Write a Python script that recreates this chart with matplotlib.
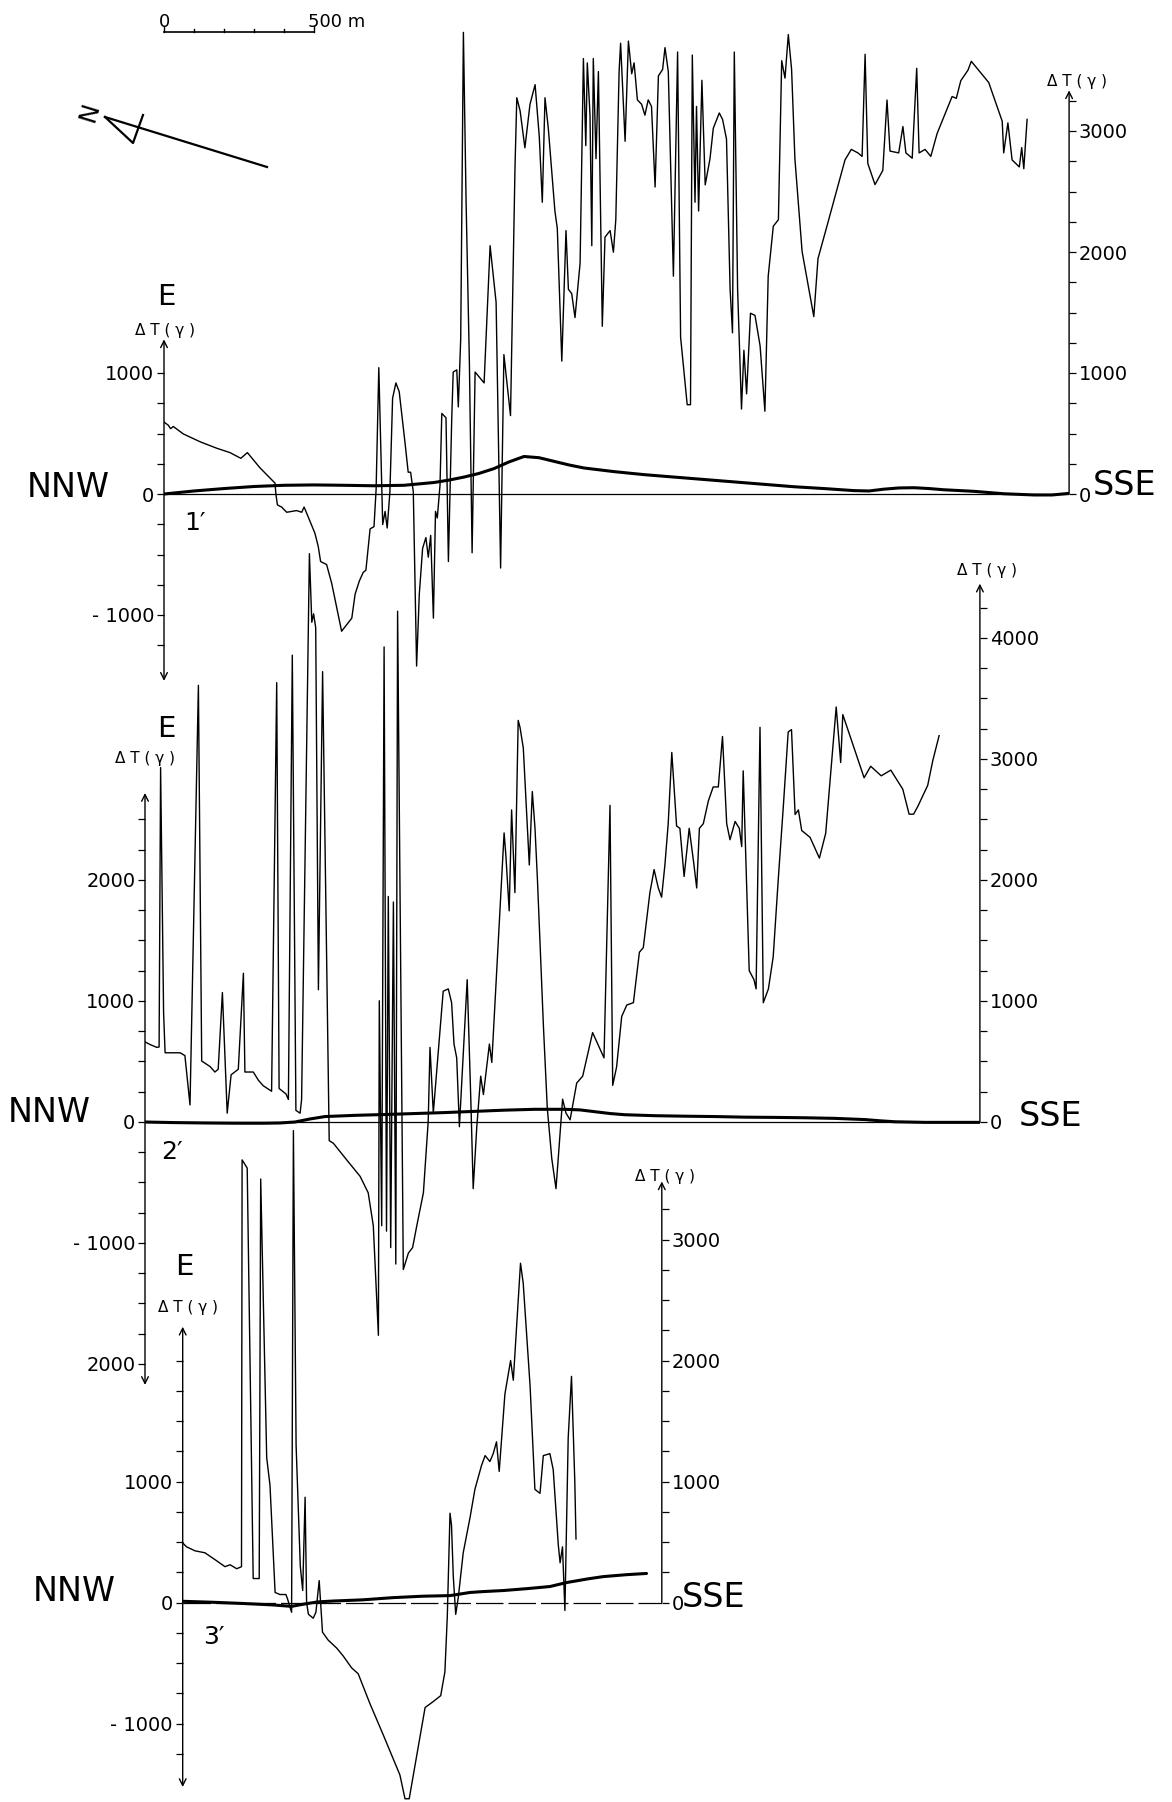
import matplotlib
matplotlib.use("Agg")
import matplotlib.pyplot as plt

plt.rcParams['font.family'] = ['DejaVu Sans']

# ---------------- data (distance along profile in m, anomaly dT in gamma) ----------------
P1_dist = [0, 14, 22, 31, 64, 120, 176, 220, 256, 278, 320, 370, 373, 378, 392, 409, 442, 459, 467, 478,
           503, 514, 522, 542, 559, 592, 626, 637, 651, 664, 673, 687, 700, 707, 716, 729, 737, 744, 753, 762,
           773, 784, 803, 814, 822, 831, 842, 851, 862, 873, 881, 889, 898, 905, 911, 920, 926, 940, 948, 959,
           964, 976, 981, 989, 998, 1007, 1018, 1027, 1037, 1067, 1087, 1107, 1122, 1133, 1155, 1170, 1176, 1187, 1203, 1220,
           1237, 1251, 1261, 1270, 1281, 1303, 1311, 1326, 1340, 1348, 1359, 1370, 1387, 1398, 1406, 1411, 1420, 1426, 1431, 1440,
           1448, 1461, 1470, 1487, 1498, 1506, 1517, 1522, 1537, 1548, 1559, 1567, 1578, 1592, 1603, 1614, 1625, 1637, 1648, 1662,
           1670, 1681, 1698, 1712, 1722, 1744, 1755, 1761, 1770, 1775, 1782, 1793, 1804, 1820, 1831, 1851, 1862, 1875, 1887, 1895,
           1901, 1912, 1925, 1933, 1942, 1955, 1970, 1987, 2003, 2014, 2031, 2048, 2059, 2070, 2081, 2092, 2103, 2127, 2166, 2180,
           2206, 2270, 2291, 2313, 2327, 2337, 2346, 2370, 2396, 2410, 2420, 2449, 2463, 2473, 2494, 2509, 2517, 2537, 2556, 2577,
           2627, 2641, 2656, 2680, 2691, 2720, 2749, 2794, 2799, 2813, 2827, 2851, 2859, 2866, 2877]
P1_dT = [594, 569, 540, 558, 497, 432, 378, 342, 295, 342, 216, 90, 0, -90, -108, -151, -137, -151, -108, -173,
         -324, -432, -558, -583, -738, -1134, -1026, -828, -720, -648, -630, -288, -270, 36, 1044, -252, -144, -281, 18, 792,
         918, 846, 432, 180, 180, 18, -1422, -828, -450, -360, -522, -342, -1026, -144, -198, 72, 666, 630, -558, 612,
         1008, 1026, 720, 1278, 3815, 2411, 1080, -486, 1008, 918, 2052, 1584, -612, 1152, 648, 2699, 3275, 3167, 2861, 3221,
         3383, 2951, 2411, 3275, 3023, 2339, 2195, 1098, 2177, 1692, 1656, 1458, 1908, 3599, 2879, 3563, 3131, 2052, 3599, 2771,
         3491, 1386, 2123, 2177, 1998, 2267, 3491, 3725, 2915, 3743, 3473, 3563, 3257, 3221, 3131, 3257, 3203, 2537, 3455, 3509,
         3689, 3491, 1800, 3653, 1296, 738, 738, 3628, 2411, 3203, 2339, 3419, 2555, 2771, 3023, 3149, 3095, 2933, 1692, 1332,
         3653, 1692, 702, 1188, 828, 1494, 1476, 1224, 684, 1800, 2213, 2267, 3581, 3437, 3797, 3509, 2771, 2004, 1466, 1946,
         2179, 2761, 2848, 2819, 2790, 3634, 2732, 2557, 2674, 3256, 2834, 2819, 3037, 2819, 2775, 3518, 2819, 2848, 2790, 2979,
         3285, 3270, 3416, 3503, 3576, 3489, 3401, 3081, 2819, 3067, 2761, 2703, 2863, 2688, 3096]
P1_reg_dist = [0, 100, 200, 300, 400, 500, 600, 700, 800, 900, 950, 1000, 1050, 1100, 1150, 1200, 1250, 1300,
               1350, 1400, 1500, 1600, 1700, 1800, 1900, 2000, 2100, 2200, 2300, 2350, 2400, 2450, 2500, 2550,
               2600, 2700, 2800, 2900, 2960, 3017]
P1_reg_dT = [0, 25, 45, 62, 72, 75, 72, 68, 72, 95, 115, 140, 170, 210, 265, 310, 300, 270, 240, 215,
             185, 160, 140, 120, 100, 80, 60, 45, 28, 25, 40, 50, 52, 45, 35, 22, 2, -8, -8, 5]

P2_dist = [0, 17, 39, 47, 52, 62, 67, 117, 133, 150, 178, 189, 217, 233, 244, 258, 274, 287, 311, 328,
           333, 361, 378, 394, 422, 439, 447, 470, 478, 491, 503, 517, 522, 548, 556, 562, 569, 578, 592, 614,
           628, 672, 717, 744, 761, 772, 778, 781, 789, 797, 805, 811, 819, 828, 836, 842, 861, 878, 892, 906,
           928, 939, 944, 950, 961, 994, 1011, 1022, 1030, 1039, 1048, 1074, 1086, 1094, 1106, 1119, 1128, 1148, 1156, 1197,
           1203, 1214, 1222, 1233, 1244, 1250, 1261, 1281, 1291, 1300, 1308, 1328, 1341, 1356, 1370, 1383, 1392, 1403, 1417, 1439,
           1459, 1492, 1530, 1550, 1559, 1572, 1589, 1606, 1628, 1648, 1661, 1683, 1697, 1711, 1722, 1733, 1744, 1756, 1772, 1783,
           1797, 1814, 1828, 1839, 1848, 1861, 1878, 1894, 1911, 1925, 1939, 1950, 1967, 1981, 1989, 1994, 2014, 2030, 2037, 2050,
           2061, 2078, 2094, 2111, 2128, 2144, 2155, 2167, 2178, 2189, 2217, 2248, 2269, 2304, 2319, 2326, 2397, 2419, 2454, 2486,
           2526, 2547, 2562, 2576, 2609, 2626, 2647]
P2_dT = [662, 640, 617, 620, 2929, 900, 572, 572, 549, 141, 3609, 504, 458, 413, 436, 1070, 73, 390, 436, 1229,
         413, 413, 345, 300, 254, 3631, 277, 232, 186, 3858, 96, 73, 186, 4697, 4130, 4200, 4085, 1093, 3722, -154,
         -176, -312, -449, -585, -857, -1446, -1763, 1002, -857, 3926, -902, 1864, -1038, 1818, -1174, 4221, -1219, -1083, -1038, -857,
         -585, -176, 5, 617, 75, 1081, 1100, 986, 644, 530, -39, 1176, 189, -551, -39, 379, 227, 644, 492, 2389,
         2200, 1745, 2579, 1896, 3319, 3262, 3091, 2124, 2731, 2427, 2010, 796, 113, -304, -551, -114, 189, 75, 18, 322,
         379, 739, 530, 2617, 303, 455, 872, 967, 986, 1403, 1441, 1896, 2086, 1934, 1858, 2124, 2465, 3054, 2446, 2427,
         2029, 2427, 2162, 1934, 2427, 2465, 2655, 2769, 2769, 3186, 2465, 2333, 2484, 2427, 2276, 2902, 1251, 1176, 1100, 3262,
         986, 1100, 1365, 2010, 2617, 3224, 3243, 2541, 2579, 2409, 2352, 2181, 2386, 3430, 2971, 3367, 2845, 2940, 2861, 2908,
         2750, 2544, 2544, 2608, 2782, 2987, 3193]
P2_reg_dist = [0, 100, 200, 300, 400, 450, 500, 550, 600, 700, 800, 900, 1000, 1100, 1200, 1300, 1400, 1450,
               1500, 1550, 1600, 1700, 1800, 1900, 2000, 2100, 2200, 2300, 2400, 2450, 2500, 2600, 2700, 2783]
P2_reg_dT = [0, -5, -8, -10, -10, -8, 0, 25, 45, 55, 62, 70, 78, 88, 98, 105, 105, 100,
             85, 70, 60, 52, 48, 45, 40, 38, 35, 30, 20, 10, 2, -3, -3, -3]

P3_dist = [0, 13, 41, 74, 113, 141, 158, 180, 196, 198, 215, 235, 255, 260, 280, 291, 308, 324, 344, 349,
           363, 369, 378, 392, 400, 408, 413, 419, 435, 444, 455, 466, 485, 513, 535, 563, 585, 624, 669, 724,
           741, 755, 808, 835, 860, 874, 882, 891, 896, 902, 910, 919, 935, 958, 974, 996, 1008, 1024, 1035, 1046,
           1055, 1074, 1093, 1102, 1126, 1135, 1158, 1174, 1191, 1202, 1224, 1235, 1252, 1258, 1266, 1274, 1285, 1296, 1307, 1311]
P3_dT = [492, 460, 427, 411, 345, 296, 312, 279, 296, 3658, 3590, 198, 198, 3500, 1197, 968, 83, 66, 66, 33,
         -81, 3900, 1300, 300, 99, 870, 0, -97, -130, -81, 181, -245, -311, -376, -442, -540, -589, -835, -1097, -1425,
         -1622, -1622, -868, -819, -770, -573, -115, 738, 640, 213, -98, 49, 410, 705, 935, 1132, 1214, 1165, 1230, 1328,
         1083, 1722, 2000, 1837, 2804, 2640, 1787, 935, 902, 1214, 1230, 1099, 476, 328, 460, -66, 1361, 1869, 1000, 525]
P3_reg_dist = [0, 100, 200, 300, 363, 400, 450, 500, 600, 700, 800, 891, 958, 1000, 1069, 1150, 1224, 1280,
               1350, 1402, 1480, 1546]
P3_reg_dT = [10, 2, -8, -20, -32, -15, 5, 12, 22, 40, 52, 57, 83, 90, 99, 115, 132, 165, 195, 214, 230, 240]

P1_length, P2_length, P3_length = 3017, 2783, 1597
left_labels_1 = {1000: '1000', 0: '0', -1000: '- 1000'}
left_labels_2 = {2000: '2000', 1000: '1000', 0: '0', -1000: '- 1000', -2000: '2000'}
left_labels_3 = {1000: '1000', 0: '0', -1000: '- 1000'}
right_labels_1 = {0: '0', 1000: '1000', 2000: '2000', 3000: '3000'}
right_labels_2 = {0: '0', 1000: '1000', 2000: '2000', 3000: '3000', 4000: '4000'}
right_labels_3 = {0: '0', 1000: '1000', 2000: '2000', 3000: '3000'}

# ---------------- layout ----------------
FW, FH = 1172, 1802
PX_PER_M = 0.3      # 150 px = 500 m
PX_PER_G = 0.121    # px per gamma

fig = plt.figure(figsize=(FW / 100, FH / 100), dpi=100)
fig.patch.set_facecolor('white')


def place(x_left, zero_px, length, ymin, ymax):
    left = x_left / FW
    width = length * PX_PER_M / FW
    top_px = zero_px - ymax * PX_PER_G
    bot_px = zero_px - ymin * PX_PER_G
    return [left, 1 - bot_px / FH, width, (bot_px - top_px) / FH]


def draw_profile(x_left, zero_px, length, ylim, dist, dT, rdist, rdT,
                 lt_range, lt_labels, l_arrow, rt_range, rt_labels, r_top, dashed):
    ax = fig.add_axes(place(x_left, zero_px, length, *ylim))
    ax.set_facecolor('none')
    ax.set_xlim(0, length)
    ax.set_ylim(*ylim)
    for s in ax.spines.values():
        s.set_visible(False)
    ax.set_xticks([])
    lt = list(range(lt_range[0], lt_range[1] + 1, 250))
    ax.set_yticks(lt)
    ax.set_yticklabels([lt_labels.get(t, '') for t in lt])
    ax.tick_params(axis='y', direction='out', length=5, width=0.9, labelsize=14, pad=2)

    ax2 = ax.twinx()
    ax2.set_ylim(*ylim)
    for s in ax2.spines.values():
        s.set_visible(False)
    rt = list(range(rt_range[0], rt_range[1] + 1, 250))
    ax2.set_yticks(rt)
    ax2.set_yticklabels([rt_labels.get(t, '') for t in rt])
    ax2.tick_params(axis='y', direction='out', length=5, width=0.9, labelsize=14, pad=2)

    # axes lines with arrows
    ax.annotate('', xy=(0, l_arrow[1]), xytext=(0, l_arrow[0]),
                arrowprops=dict(arrowstyle='<->', color='k', lw=1.0, shrinkA=0, shrinkB=0,
                                mutation_scale=12))
    ax.annotate('', xy=(length, r_top), xytext=(length, 0),
                arrowprops=dict(arrowstyle='->', color='k', lw=1.0, shrinkA=0, shrinkB=0,
                                mutation_scale=12))
    # base line
    if dashed:
        ax.plot([0, length], [0, 0], color='k', lw=0.9, linestyle=(0, (22, 4)))
    else:
        ax.plot([0, length], [0, 0], color='k', lw=0.9)
    # measured profile (thin) and computed profile (thick)
    ax.plot(dist, dT, color='k', lw=1.0)
    ax.plot(rdist, rdT, color='k', lw=2.2, solid_capstyle='round', solid_joinstyle='round')
    return ax


draw_profile(164, 494, P1_length, (-1700, 3950), P1_dist, P1_dT, P1_reg_dist, P1_reg_dT,
             (-1250, 1000), left_labels_1, (-1544, 1278), (0, 3250), right_labels_1, 3336, False)
draw_profile(145, 1122, P2_length, (-2300, 4800), P2_dist, P2_dT, P2_reg_dist, P2_reg_dT,
             (-2000, 2500), left_labels_2, (-2173, 2719), (0, 4250), right_labels_2, 4449, False)
draw_profile(182.7, 1602.5, P3_length, (-1700, 4000), P3_dist, P3_dT, P3_reg_dist, P3_reg_dT,
             (-1250, 2000), left_labels_3, (-1525, 2279), (0, 3250), right_labels_3, 3480, True)

# ---------------- overlay for annotations (pixel coordinates) ----------------
ov = fig.add_axes([0, 0, 1, 1])
ov.set_facecolor('none')
ov.set_xlim(0, FW)
ov.set_ylim(FH, 0)
ov.axis('off')

# scale bar
sb_x0, sb_y = 164, 32
sb_len = 500 * PX_PER_M
ov.plot([sb_x0, sb_x0 + sb_len], [sb_y, sb_y], color='k', lw=1.2)
for i in range(6):
    xx = sb_x0 + i * sb_len / 5
    top = sb_y - (6 if i in (0, 5) else 3)
    ov.plot([xx, xx], [sb_y, top], color='k', lw=1.0)
ov.text(sb_x0, 27, '0', ha='center', va='baseline', fontsize=13)
ov.text(sb_x0 + sb_len - 6, 27, '500 m', ha='left', va='baseline', fontsize=13)

# north arrow
ov.plot([105, 267], [117, 167], color='k', lw=1.6)
ov.plot([105, 133, 143], [117, 143, 115], color='k', lw=1.6)
ov.text(90, 112, 'N', ha='center', va='center', fontsize=18, rotation=73)

big = 24
# profile 1 annotations
ov.text(157, 305, 'E', ha='left', va='baseline', fontsize=21)
ov.text(165, 335, 'Δ T ( γ )', ha='center', va='baseline', fontsize=11)
ov.text(27, 497, 'NNW', ha='left', va='baseline', fontsize=big)
ov.text(184, 530, '1′', ha='left', va='baseline', fontsize=18)
ov.text(1093, 495, 'SSE', ha='left', va='baseline', fontsize=big)
ov.text(1077, 86, 'Δ T ( γ )', ha='center', va='baseline', fontsize=11)

# profile 2 annotations
ov.text(157, 737, 'E', ha='left', va='baseline', fontsize=21)
ov.text(145, 763, 'Δ T ( γ )', ha='center', va='baseline', fontsize=11)
ov.text(8, 1122, 'NNW', ha='left', va='baseline', fontsize=big)
ov.text(161, 1159, '2′', ha='left', va='baseline', fontsize=18)
ov.text(1019, 1126, 'SSE', ha='left', va='baseline', fontsize=big)
ov.text(987, 575, 'Δ T ( γ )', ha='center', va='baseline', fontsize=11)

# profile 3 annotations
ov.text(175, 1275, 'E', ha='left', va='baseline', fontsize=21)
ov.text(188, 1312, 'Δ T ( γ )', ha='center', va='baseline', fontsize=11)
ov.text(33, 1601, 'NNW', ha='left', va='baseline', fontsize=big)
ov.text(203, 1644, '3′', ha='left', va='baseline', fontsize=18)
ov.text(682, 1607, 'SSE', ha='left', va='baseline', fontsize=big)
ov.text(665, 1181, 'Δ T ( γ )', ha='center', va='baseline', fontsize=11)

fig.savefig('out.png', dpi=100, facecolor='white')
